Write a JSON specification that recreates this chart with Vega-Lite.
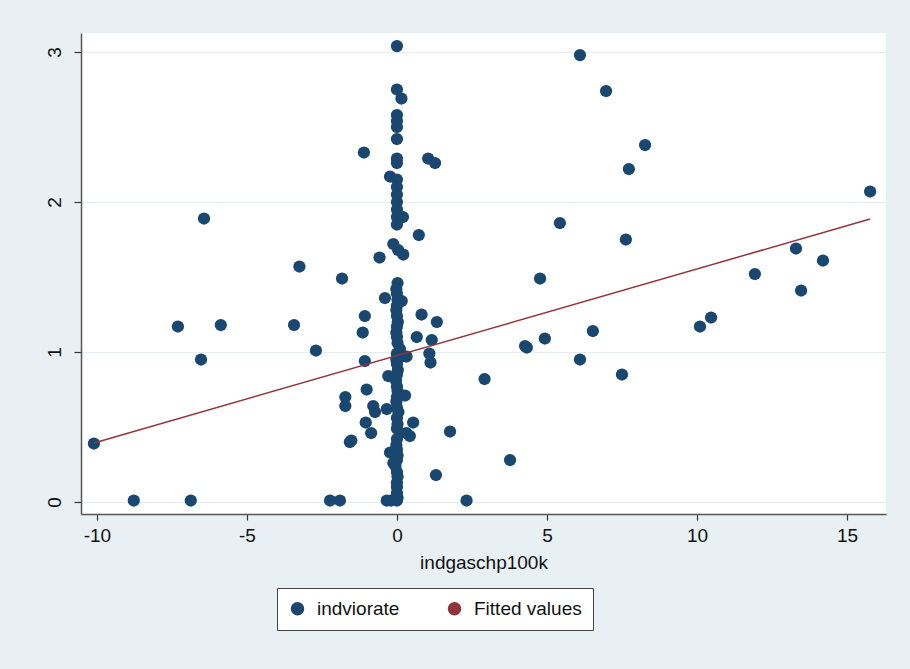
{
  "$schema": "https://vega.github.io/schema/vega-lite/v6.json",
  "autosize": "none",
  "width": 805,
  "height": 481,
  "padding": {"left": 81, "top": 33, "right": 24, "bottom": 155},
  "background": "#e8f0f3",
  "config": {
    "font": "Liberation Sans",
    "view": {"fill": "white", "stroke": null},
    "axis": {
      "labelFont": "Liberation Sans",
      "labelFontSize": 19,
      "labelColor": "#111111",
      "titleFont": "Liberation Sans",
      "titleFontSize": 19,
      "titleFontWeight": "normal",
      "titleColor": "#111111",
      "domainColor": "#555555",
      "domainWidth": 1.5,
      "tickColor": "#333333",
      "tickWidth": 1.2,
      "gridColor": "#e4ecef",
      "gridWidth": 1.2
    },
    "legend": {
      "labelFont": "Liberation Sans",
      "labelFontSize": 19,
      "labelColor": "#111111"
    }
  },
  "datasets": {
    "pts": [
      {"x": -10.1, "y": 0.39}, {"x": -8.77, "y": 0.01}, {"x": -6.87, "y": 0.01},
      {"x": -7.3, "y": 1.17}, {"x": -6.43, "y": 1.89}, {"x": -6.53, "y": 0.95},
      {"x": -5.87, "y": 1.18}, {"x": -3.43, "y": 1.18}, {"x": -3.25, "y": 1.57},
      {"x": -2.7, "y": 1.01}, {"x": -1.83, "y": 1.49}, {"x": -2.23, "y": 0.01},
      {"x": -1.9, "y": 0.01}, {"x": -1.1, "y": 2.33}, {"x": -1.07, "y": 1.24},
      {"x": -1.14, "y": 1.13}, {"x": -1.07, "y": 0.94}, {"x": -1.01, "y": 0.75},
      {"x": -1.72, "y": 0.7}, {"x": -1.72, "y": 0.64}, {"x": -0.79, "y": 0.64},
      {"x": -0.73, "y": 0.6}, {"x": -0.34, "y": 0.62}, {"x": -1.04, "y": 0.53},
      {"x": -0.86, "y": 0.46}, {"x": -1.57, "y": 0.4}, {"x": -1.52, "y": 0.41},
      {"x": -0.58, "y": 1.63}, {"x": -0.4, "y": 1.36}, {"x": -0.23, "y": 2.17},
      {"x": -0.29, "y": 0.84}, {"x": -0.23, "y": 0.33}, {"x": -0.12, "y": 0.26},
      {"x": -0.34, "y": 0.01}, {"x": -0.12, "y": 1.72}, {"x": -0.2, "y": 0.01},
      {"x": 0.04, "y": 1.68}, {"x": 0.21, "y": 1.65}, {"x": 0.16, "y": 1.34},
      {"x": 0.2, "y": 1.9}, {"x": 0.27, "y": 0.71}, {"x": 0.54, "y": 0.53},
      {"x": 0.32, "y": 0.46}, {"x": 0.43, "y": 0.44}, {"x": 0.32, "y": 0.97},
      {"x": 0.66, "y": 1.1}, {"x": 0.82, "y": 1.25}, {"x": 0.73, "y": 1.78},
      {"x": 1.04, "y": 2.29}, {"x": 1.27, "y": 2.26}, {"x": 1.33, "y": 1.2},
      {"x": 1.16, "y": 1.08}, {"x": 1.08, "y": 0.99}, {"x": 1.12, "y": 0.93},
      {"x": 1.77, "y": 0.47}, {"x": 1.3, "y": 0.18}, {"x": 2.32, "y": 0.01},
      {"x": 2.92, "y": 0.82}, {"x": 3.77, "y": 0.28}, {"x": 0.15, "y": 2.69},
      {"x": 6.1, "y": 2.98}, {"x": 6.97, "y": 2.74}, {"x": 8.27, "y": 2.38},
      {"x": 7.73, "y": 2.22}, {"x": 15.77, "y": 2.07}, {"x": 5.43, "y": 1.86},
      {"x": 7.63, "y": 1.75}, {"x": 4.77, "y": 1.49}, {"x": 13.3, "y": 1.69},
      {"x": 14.2, "y": 1.61}, {"x": 11.93, "y": 1.52}, {"x": 13.47, "y": 1.41},
      {"x": 10.47, "y": 1.23}, {"x": 10.1, "y": 1.17}, {"x": 6.53, "y": 1.14},
      {"x": 4.93, "y": 1.09}, {"x": 4.27, "y": 1.04}, {"x": 4.33, "y": 1.03},
      {"x": 6.1, "y": 0.95}, {"x": 7.5, "y": 0.85},
      {"x": 0.0, "y": 3.04}, {"x": 0.0, "y": 2.75}, {"x": 0.0, "y": 2.58},
      {"x": 0.0, "y": 2.54}, {"x": 0.0, "y": 2.5}, {"x": 0.0, "y": 2.42},
      {"x": 0.0, "y": 2.29}, {"x": 0.0, "y": 2.26}, {"x": 0.0, "y": 2.15},
      {"x": 0.0, "y": 2.1}, {"x": 0.0, "y": 2.05}, {"x": 0.0, "y": 2.0},
      {"x": 0.0, "y": 1.95}, {"x": 0.0, "y": 1.9}, {"x": 0.0, "y": 1.85},
      {"x": 0.02, "y": 1.46}, {"x": -0.02, "y": 1.42}, {"x": 0.0, "y": 1.39},
      {"x": 0.02, "y": 1.35}, {"x": 0.0, "y": 1.31}, {"x": -0.02, "y": 1.28},
      {"x": 0.0, "y": 1.24}, {"x": 0.03, "y": 1.2}, {"x": 0.0, "y": 1.17},
      {"x": -0.02, "y": 1.13}, {"x": 0.0, "y": 1.1}, {"x": 0.02, "y": 1.06},
      {"x": 0.1, "y": 1.02}, {"x": 0.0, "y": 0.99}, {"x": 0.15, "y": 0.97},
      {"x": -0.02, "y": 0.95}, {"x": 0.0, "y": 0.92}, {"x": 0.03, "y": 0.88},
      {"x": 0.0, "y": 0.85}, {"x": -0.03, "y": 0.81}, {"x": 0.0, "y": 0.77},
      {"x": 0.02, "y": 0.74}, {"x": 0.0, "y": 0.7}, {"x": -0.02, "y": 0.67},
      {"x": 0.0, "y": 0.63}, {"x": 0.05, "y": 0.6}, {"x": 0.0, "y": 0.56},
      {"x": 0.02, "y": 0.52}, {"x": 0.0, "y": 0.49}, {"x": 0.1, "y": 0.46},
      {"x": 0.0, "y": 0.42}, {"x": -0.02, "y": 0.38}, {"x": 0.0, "y": 0.35},
      {"x": 0.02, "y": 0.31}, {"x": 0.0, "y": 0.28}, {"x": -0.05, "y": 0.24},
      {"x": 0.0, "y": 0.2}, {"x": 0.02, "y": 0.17}, {"x": 0.0, "y": 0.13},
      {"x": 0.0, "y": 0.1}, {"x": 0.0, "y": 0.06}, {"x": 0.02, "y": 0.03},
      {"x": 0.0, "y": 0.01}
    ],
    "fit": [
      {"x": -10.1, "y": 0.393},
      {"x": 15.77, "y": 1.887}
    ]
  },
  "layer": [
    {
      "data": {"name": "pts"},
      "mark": {"type": "point", "filled": true, "opacity": 1, "size": 150, "shape": "circle"},
      "encoding": {
        "x": {
          "field": "x", "type": "quantitative",
          "scale": {"domain": [-10.53, 16.3], "nice": false, "zero": false},
          "axis": {
            "values": [-10, -5, 0, 5, 10, 15],
            "labelExpr": "'' + datum.value",
            "title": "indgaschp100k",
            "grid": false,
            "tickSize": 6,
            "labelPadding": 6,
            "titlePadding": 8
          }
        },
        "y": {
          "field": "y", "type": "quantitative",
          "scale": {"domain": [-0.08, 3.127], "nice": false, "zero": false},
          "axis": {
            "values": [0, 1, 2, 3],
            "labelExpr": "'' + datum.value",
            "title": null,
            "grid": true,
            "tickSize": 7,
            "labelAngle": -90,
            "labelPadding": 10
          }
        },
        "color": {
          "datum": "indviorate",
          "scale": {"domain": ["indviorate", "Fitted values"], "range": ["#1a476f", "#90353b"]},
          "legend": {
            "title": null,
            "orient": "none",
            "legendX": 196,
            "legendY": 555,
            "direction": "horizontal",
            "strokeColor": "#444444",
            "fillColor": "white",
            "padding": 11,
            "columnPadding": 45,
            "labelOffset": 10,
            "symbolSize": 144
          }
        }
      }
    },
    {
      "data": {"name": "fit"},
      "mark": {"type": "line", "strokeWidth": 1.5},
      "encoding": {
        "x": {"field": "x", "type": "quantitative"},
        "y": {"field": "y", "type": "quantitative"},
        "color": {"datum": "Fitted values"}
      }
    }
  ]
}
